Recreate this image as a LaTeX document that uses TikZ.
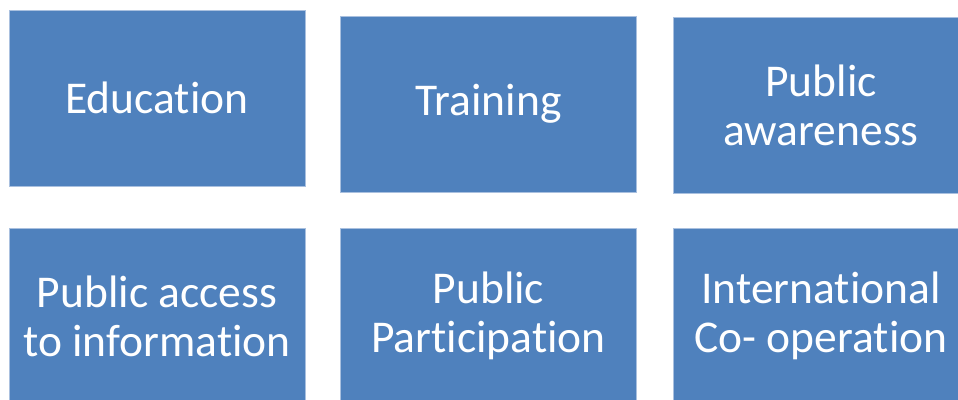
\documentclass[tikz,border=0pt]{standalone}
\usepackage{fontspec}
\setmainfont{Carlito}[Ligatures=NoCommon]
\definecolor{boxblue}{HTML}{4F81BD}
\definecolor{boxedge}{HTML}{A9C0DF}
\begin{document}
\begin{tikzpicture}[x=1pt,y=-1pt,
  tile/.style={rectangle, fill=boxblue, draw=boxedge, line width=0.7pt,
    minimum width=296pt, minimum height=176pt, inner sep=0pt,
    text=white, align=center,
    font=\fontsize{45.5}{49}\selectfont}]
\clip (0,0) rectangle (958,399);
\useasboundingbox (0,0) rectangle (958,399);
\node[tile] (edu) at (157,98) {Education};
\node[tile] (tra) at (488.5,104) {Training};
\node[tile] (paw) at (821,105) {Public\\awareness};
\node[tile] (pai) at (157,316) {Public access\\to information};
\node[tile] (ppa) at (488.5,316) {Public\\Participation};
\node[tile] (ico) at (821,316) {International\\Co- operation};
\end{tikzpicture}
\end{document}
